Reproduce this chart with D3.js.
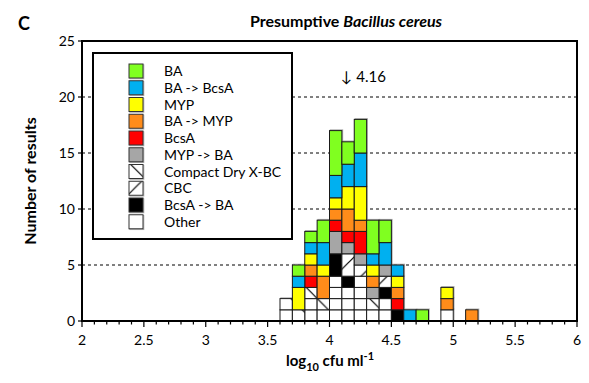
<!DOCTYPE html>
<html><head><meta charset="utf-8">
<script src="https://cdn.jsdelivr.net/npm/d3@7"></script>
<style>
body{margin:0;background:#fff;}
text{font-family:Lato,"Open Sans",sans-serif;}
</style></head>
<body><svg id="c" width="589" height="383"></svg>
<script>
// bin starts (log10 cfu/ml), bin width 0.1
const bins = [3.6,3.7,3.8,3.9,4.0,4.1,4.2,4.3,4.4,4.5,4.6,4.7,4.8,4.9,5.0,5.1];
// counts per bin, stack order bottom -> top
const other      = [1,0,2,1,4,3,4,1,2,0,0,0,0,1,0,0];
const bcsaToBa   = [0,0,0,0,2,1,0,0,1,1,0,0,0,0,0,0];
const cbc        = [0,0,0,0,0,2,1,0,1,0,0,0,0,0,0,0];
const compactDry = [1,1,1,1,0,0,0,1,0,0,0,0,0,0,0,0];
const mypToBa    = [0,0,0,0,2,1,1,1,1,0,0,0,0,0,0,0];
const bcsa       = [0,0,1,0,1,1,2,0,0,1,0,0,0,0,0,0];
const baToMyp    = [0,0,1,2,1,2,1,1,0,1,0,0,0,1,0,1];
const myp        = [0,2,1,1,1,2,3,1,0,1,0,0,0,1,0,0];
const baToBcsa   = [0,1,1,2,2,2,3,1,2,1,1,0,0,0,0,0];
const ba         = [0,1,1,2,4,2,3,3,2,0,0,1,0,0,0,0];
const seriesNames = ["Other","BcsA -> BA","CBC","Compact Dry X-BC","MYP -> BA","BcsA","BA -> MYP","MYP","BA -> BcsA","BA"];
const seriesData  = [other,bcsaToBa,cbc,compactDry,mypToBa,bcsa,baToMyp,myp,baToBcsa,ba];
const legendOrder = ["BA","BA -> BcsA","MYP","BA -> MYP","BcsA","MYP -> BA","Compact Dry X-BC","CBC","BcsA -> BA","Other"];
const xTicks = [2,2.5,3,3.5,4,4.5,5,5.5,6];
const yTicks = [0,5,10,15,20,25];
const gridVals = [5,10,15,20];
const meanVal = 4.16;

const fills = {"BA":"#80ff20","BA -> BcsA":"#00b0f0","MYP":"#ffff00","BA -> MYP":"#ff8c1a","BcsA":"#ff0000",
  "MYP -> BA":"#a6a6a6","Compact Dry X-BC":"url(#pCD)","CBC":"url(#pCBC)","BcsA -> BA":"#000000","Other":"#ffffff"};

const svg = d3.select("#c");
const L=82,R=577,T=41,B=321;
const x = d3.scaleLinear().domain([2,6]).range([L,R]);
const y = d3.scaleLinear().domain([0,25]).range([B,T]);

// hatch patterns (global, user-space)
const P=26.2;
const defs = svg.append("defs");
const pcd = defs.append("pattern").attr("id","pCD").attr("patternUnits","userSpaceOnUse")
  .attr("width",P).attr("height",P).attr("x",18.7).attr("y",0);
pcd.append("rect").attr("width",P).attr("height",P).attr("fill","#fff");
[[-1,-1,P+1,P+1],[-1,P-1,1,P+1],[P-1,-1,P+1,1]].forEach(s=>pcd.append("line")
  .attr("x1",s[0]).attr("y1",s[1]).attr("x2",s[2]).attr("y2",s[3]).attr("stroke","#000").attr("stroke-width",1.2));
const pcb = defs.append("pattern").attr("id","pCBC").attr("patternUnits","userSpaceOnUse")
  .attr("width",P).attr("height",P).attr("x",8.5).attr("y",0);
pcb.append("rect").attr("width",P).attr("height",P).attr("fill","#fff");
[[-1,P+1,P+1,-1],[-1,1,1,-1],[P-1,P+1,P+1,P-1]].forEach(s=>pcb.append("line")
  .attr("x1",s[0]).attr("y1",s[1]).attr("x2",s[2]).attr("y2",s[3]).attr("stroke","#000").attr("stroke-width",1.2));

// gridlines
svg.append("g").selectAll("line").data(gridVals).join("line")
  .attr("x1",L).attr("x2",R).attr("y1",d=>y(d)).attr("y2",d=>y(d))
  .attr("stroke","#000").attr("stroke-width",1).attr("stroke-dasharray","3,3");

// stacked blocks (one block per series per bin; "Other" split into single results)
const table = bins.map((b,i)=>{const o={bin:b}; seriesNames.forEach((n,j)=>o[n]=seriesData[j][i]); return o;});
const stacked = d3.stack().keys(seriesNames)(table);
const blocks = [];
stacked.forEach(layer=>{
  layer.forEach(d=>{
    if(d[1]<=d[0]) return;
    if(layer.key==="Other"){
      for(let k=d[0];k<d[1];k++) blocks.push({name:layer.key,bin:d.data.bin,v0:k,v1:k+1});
    } else blocks.push({name:layer.key,bin:d.data.bin,v0:d[0],v1:d[1]});
  });
});
const bw = x(2.1)-x(2);
// soft grey shadow then block
svg.append("g").selectAll("rect").data(blocks).join("rect")
  .attr("x",d=>x(d.bin)+0.8).attr("width",bw)
  .attr("y",d=>y(d.v1)-0.8).attr("height",d=>y(d.v0)-y(d.v1))
  .attr("fill","none").attr("stroke","#b0b0b0").attr("stroke-width",1);
svg.append("g").selectAll("rect").data(blocks).join("rect")
  .attr("x",d=>x(d.bin)).attr("width",bw)
  .attr("y",d=>y(d.v1)).attr("height",d=>y(d.v0)-y(d.v1))
  .attr("fill",d=>fills[d.name]).attr("stroke","#1a1a1a").attr("stroke-width",1);

// legend
const lg = svg.append("g");
lg.append("rect").attr("x",93).attr("y",53).attr("width",199).attr("height",186)
  .attr("fill","#fff").attr("stroke","#000").attr("stroke-width",2);
legendOrder.forEach((n,i)=>{
  const cy = 71 + i*16.75;
  lg.append("rect").attr("x",129.8).attr("y",cy-6.2).attr("width",14).attr("height",14)
    .attr("fill","none").attr("stroke","#b0b0b0").attr("stroke-width",1);
  lg.append("rect").attr("x",129).attr("y",cy-7).attr("width",14).attr("height",14)
    .attr("fill",fills[n]).attr("stroke","#333").attr("stroke-width",1);
  lg.append("text").attr("x",164).attr("y",cy+5).attr("font-size",14).text(n);
});

// frame
svg.append("rect").attr("x",L).attr("y",T).attr("width",R-L).attr("height",B-T)
  .attr("fill","none").attr("stroke","#000").attr("stroke-width",2);

// x axis ticks
const minor = d3.range(20,61).map(v=>v/10);
svg.append("g").selectAll("line").data(minor).join("line")
  .attr("x1",d=>x(d)).attr("x2",d=>x(d)).attr("y1",B).attr("y2",d=>B+(Math.abs(d*2-Math.round(d*2))<1e-6?6:3.5))
  .attr("stroke","#000").attr("stroke-width",1.2);
svg.append("g").selectAll("text").data(xTicks).join("text")
  .attr("x",d=>x(d)).attr("y",345).attr("text-anchor","middle").attr("font-size",14)
  .text(d=>d3.format("")(d));
// y ticks
svg.append("g").selectAll("line").data(yTicks).join("line")
  .attr("x1",L-4).attr("x2",L).attr("y1",d=>y(d)).attr("y2",d=>y(d)).attr("stroke","#000").attr("stroke-width",1.2);
svg.append("g").selectAll("text").data(yTicks).join("text")
  .attr("x",L-7).attr("y",d=>y(d)+5).attr("text-anchor","end").attr("font-size",14).text(d=>d);

// mean annotation
svg.append("text").attr("x",x(meanVal)-3).attr("y",82).attr("font-size",15).attr("text-anchor","middle").text("↓");
svg.append("text").attr("x",x(meanVal)+7).attr("y",82).attr("font-size",15).text(meanVal.toFixed(2));

// titles
svg.append("text").attr("x",18).attr("y",30).attr("font-size",18).attr("font-weight","bold").text("C");
const tt = svg.append("text").attr("x",346).attr("y",27).attr("text-anchor","middle").attr("font-size",16).attr("font-weight","bold");
tt.append("tspan").text("Presumptive ");
tt.append("tspan").attr("font-style","italic").text("Bacillus cereus");
svg.append("text").attr("transform","translate(36,181) rotate(-90)").attr("text-anchor","middle")
  .attr("font-size",16).attr("font-weight","bold").text("Number of results");
const xt = svg.append("text").attr("x",330).attr("y",366).attr("text-anchor","middle").attr("font-size",15).attr("font-weight","bold");
xt.append("tspan").text("log");
xt.append("tspan").attr("font-size",11).attr("dy",5).text("10");
xt.append("tspan").attr("dy",-5).text(" cfu ml");
xt.append("tspan").attr("font-size",11).attr("dy",-6).text("-1");
</script></body></html>
